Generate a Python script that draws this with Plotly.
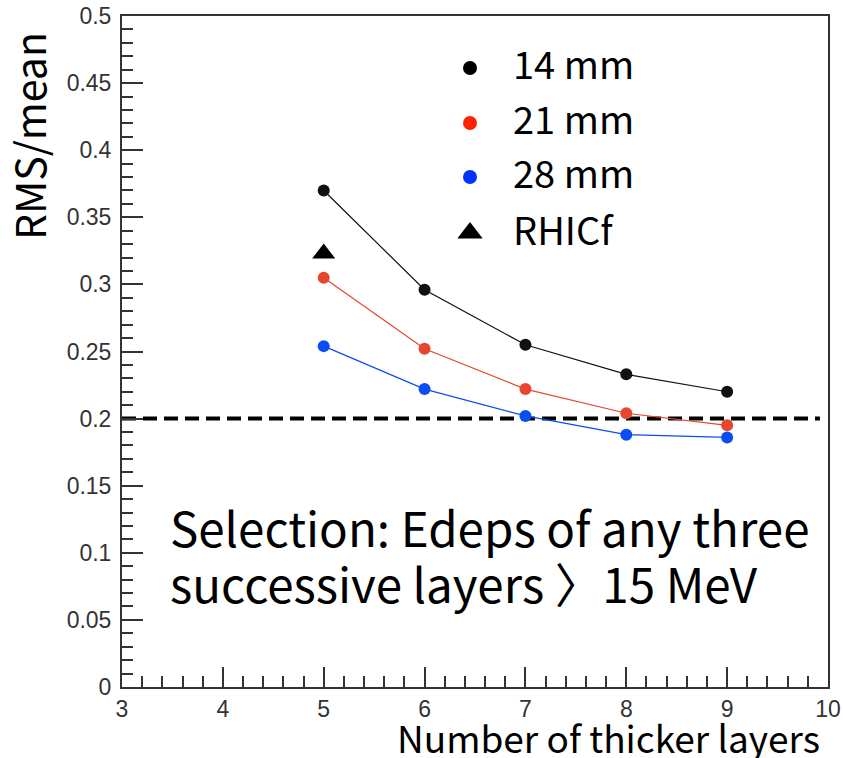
import plotly.graph_objects as go

# ---- data ----
layers = [5, 6, 7, 8, 9]
rms_14mm = [0.370, 0.296, 0.255, 0.233, 0.220]
rms_21mm = [0.305, 0.252, 0.222, 0.204, 0.195]
rms_28mm = [0.254, 0.222, 0.202, 0.188, 0.186]
rhicf_x = [5]
rhicf_y = [0.323]
ref_x = [3, 9.92]
ref_y = [0.2, 0.2]

series_names = ["14 mm", "21 mm", "28 mm", "RHICf"]
selection_lines = ["Selection: Edeps of any three", "successive layers 〉15 MeV"]

# page geometry (body margin removed via post_script)
PW, PH = 843, 758
PL, PR, PT, PB = 122, 828, 16, 687

TITLE_FONT = "Noto Sans CJK KR"
TICK_FONT = "Liberation Sans"


def px(xp):
    return (xp - PL) / (PR - PL)


def py(yp):
    return (PB - yp) / (PB - PT)


fig = go.Figure()

# reference dashed line
fig.add_trace(go.Scatter(x=ref_x, y=ref_y, mode="lines",
                         line=dict(color="black", width=4, dash="14px,7px"),
                         showlegend=False, hoverinfo="skip"))

line_cols = ["#111111", "#e8452f", "#0a4cf5"]
for ys, c in zip([rms_14mm, rms_21mm, rms_28mm], line_cols):
    fig.add_trace(go.Scatter(x=layers, y=ys, mode="lines+markers",
                             line=dict(color=c, width=1.2),
                             marker=dict(color=c, size=12, symbol="circle"),
                             showlegend=False))

fig.add_trace(go.Scatter(x=rhicf_x, y=rhicf_y, mode="markers",
                         marker=dict(color="black", size=20, symbol="triangle-up"),
                         showlegend=False))

# ---- manual legend on a pixel-coordinate overlay axis ----
leg_cols = ["#000000", "#ff2200", "#0033ff", "#000000"]
leg_syms = ["circle", "circle", "circle", "triangle-up"]
leg_sizes = [14, 14, 14, 22]
leg_y = [68, 123, 177, 233]
for name, c, s, sz, yy in zip(series_names, leg_cols, leg_syms, leg_sizes, leg_y):
    fig.add_trace(go.Scatter(x=[470], y=[yy], mode="markers",
                             marker=dict(color=c, size=sz, symbol=s),
                             xaxis="x2", yaxis="y2", showlegend=False,
                             hoverinfo="skip"))

annotations = []
for name, yy in zip(series_names, leg_y):
    annotations.append(dict(x=px(511), y=py(yy - 5), xref="paper", yref="paper", text=name,
                            showarrow=False, xanchor="left", yanchor="middle",
                            font=dict(family=TITLE_FONT, size=38, color="black")))

for txt, yy in zip(selection_lines, [526, 582]):
    annotations.append(dict(x=px(168), y=py(yy), xref="paper", yref="paper", text=txt,
                            showarrow=False, xanchor="left", yanchor="middle",
                            font=dict(family=TITLE_FONT, size=47.5, color="black")))

# axis titles
annotations.append(dict(x=px(822), y=py(737), xref="paper", yref="paper",
                        text="Number of thicker layers",
                        showarrow=False, xanchor="right", yanchor="middle",
                        font=dict(family=TITLE_FONT, size=37, color="black")))
annotations.append(dict(x=px(28), y=py(136), xref="paper", yref="paper",
                        text="RMS/mean", textangle=-90,
                        showarrow=False, xanchor="center", yanchor="middle",
                        font=dict(family=TITLE_FONT, size=41, color="black")))

axis_common = dict(showline=True, linecolor="#333333", linewidth=2, mirror=True,
                   ticks="inside", tickwidth=1.5, tickcolor="#333333",
                   showgrid=False, zeroline=False, automargin=False,
                   tickfont=dict(family=TICK_FONT, size=23, color="#333333"))

fig.update_layout(
    width=PW, height=PH,
    margin=dict(l=PL, r=PW - PR, t=PT, b=PH - PB, pad=0),
    paper_bgcolor="white", plot_bgcolor="white",
    showlegend=False,
    xaxis=dict(range=[3, 10], dtick=1, tick0=3, ticklen=20,
               minor=dict(dtick=0.2, ticklen=11, ticks="inside", tickcolor="#333333", tickwidth=1.5),
               **axis_common),
    yaxis=dict(range=[0, 0.5], dtick=0.05, tick0=0, ticklen=21, ticklabelstandoff=4,
               minor=dict(dtick=0.01, ticklen=11, ticks="inside", tickcolor="#333333", tickwidth=1.5),
               **axis_common),
    xaxis2=dict(range=[PL, PR], overlaying="x", visible=False, fixedrange=True),
    yaxis2=dict(range=[PB, PT], overlaying="y", visible=False, fixedrange=True),
    annotations=annotations,
)

fig.write_html("out.html",
               config={"displayModeBar": False},
               post_script="document.body.style.margin='0';"
                           "document.body.style.overflow='hidden';"
                           "document.documentElement.style.overflow='hidden';")
